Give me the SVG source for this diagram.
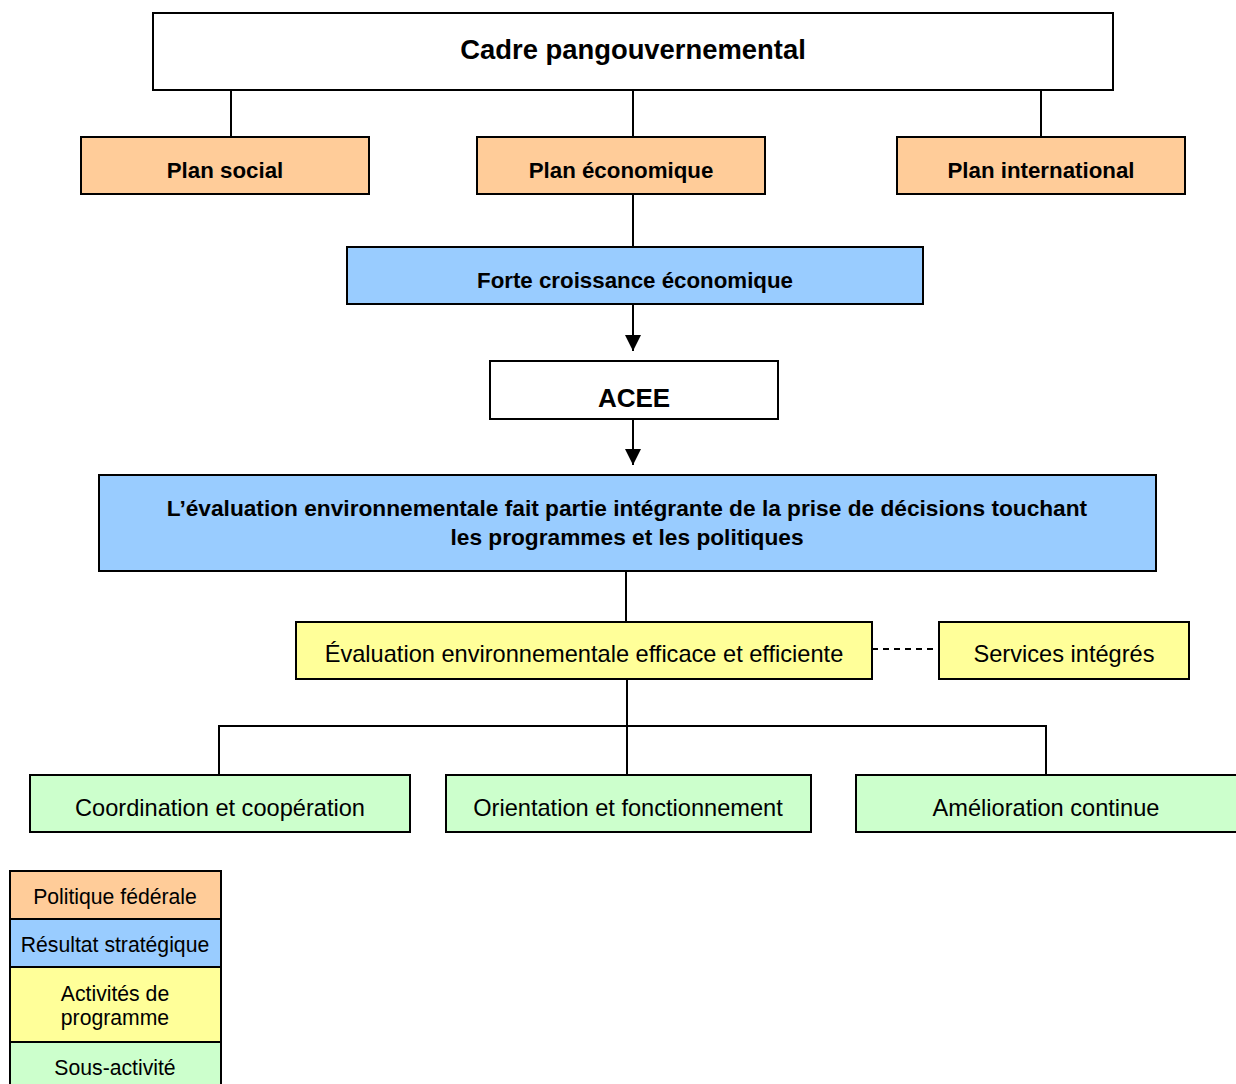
<svg xmlns="http://www.w3.org/2000/svg" width="1236" height="1084" viewBox="0 0 1236 1084">
<defs>
<style>
.box{stroke:#000;stroke-width:2}
.w{fill:#fff}.o{fill:#FFCC99}.b{fill:#99CCFF}.y{fill:#FFFF99}.g{fill:#CCFFCC}
text{font-family:"Liberation Sans",Arial,sans-serif;text-anchor:middle;fill:#000}
.bd{font-weight:bold;font-size:22.3px}
.rg{font-size:23.6px}
.lg{font-size:21.2px}
.ln{stroke:#000;stroke-width:2;fill:none}
</style>
<marker id="ah2" viewBox="0 0 16 16" refX="16" refY="8" markerWidth="16" markerHeight="16" markerUnits="userSpaceOnUse" orient="auto">
<path d="M0,0 L16,8 L0,16 Z" fill="#000"/>
</marker>
</defs>
<g id="connectors">
<line class="ln" x1="231" y1="90" x2="231" y2="137"/>
<line class="ln" x1="633" y1="90" x2="633" y2="137"/>
<line class="ln" x1="1041" y1="90" x2="1041" y2="137"/>
<line class="ln" x1="633" y1="194" x2="633" y2="247"/>
<line class="ln" x1="633" y1="304" x2="633" y2="351" marker-end="url(#ah2)"/>
<line class="ln" x1="633" y1="419" x2="633" y2="465" marker-end="url(#ah2)"/>
<line class="ln" x1="626" y1="571" x2="626" y2="622"/>
<line class="ln" x1="872" y1="649" x2="939" y2="649" stroke-dasharray="6,5"/>
<line class="ln" x1="627" y1="679" x2="627" y2="775"/>
<path class="ln" d="M219,775 V726 H1046 V775"/>
</g>
<g id="cadre"><rect class="box w" x="153" y="13" width="960" height="77"/><text class="bd" x="633" y="59" style="font-size:27.4px">Cadre pangouvernemental</text></g>
<g id="plan-social"><rect class="box o" x="81" y="137" width="288" height="57"/><text class="bd" x="225" y="178">Plan social</text></g>
<g id="plan-economique"><rect class="box o" x="477" y="137" width="288" height="57"/><text class="bd" x="621" y="178">Plan économique</text></g>
<g id="plan-international"><rect class="box o" x="897" y="137" width="288" height="57"/><text class="bd" x="1041" y="178">Plan international</text></g>
<g id="forte-croissance"><rect class="box b" x="347" y="247" width="576" height="57"/><text class="bd" x="635" y="288">Forte croissance économique</text></g>
<g id="acee"><rect class="box w" x="490" y="361" width="288" height="58"/><text class="bd" x="634" y="407" style="font-size:26px">ACEE</text></g>
<g id="evaluation-integrante"><rect class="box b" x="99" y="475" width="1057" height="96"/><text class="bd" x="627" y="516" style="font-size:22.7px">L’évaluation environnementale fait partie intégrante de la prise de décisions touchant</text><text class="bd" x="627" y="545" style="font-size:22.7px">les programmes et les politiques</text></g>
<g id="evaluation-efficace"><rect class="box y" x="296" y="622" width="576" height="57"/><text class="rg" x="584" y="662">Évaluation environnementale efficace et efficiente</text></g>
<g id="services"><rect class="box y" x="939" y="622" width="250" height="57"/><text class="rg" x="1064" y="662">Services intégrés</text></g>
<g id="coordination"><rect class="box g" x="30" y="775" width="380" height="57"/><text class="rg" x="220" y="816">Coordination et coopération</text></g>
<g id="orientation"><rect class="box g" x="446" y="775" width="365" height="57"/><text class="rg" x="628" y="816">Orientation et fonctionnement</text></g>
<g id="amelioration"><rect class="box g" x="856" y="775" width="382" height="57"/><text class="rg" x="1046" y="816">Amélioration continue</text></g>
<g id="legend">
<rect class="box o" x="10" y="871" width="211" height="48"/><text class="lg" x="115" y="904">Politique fédérale</text>
<rect class="box b" x="10" y="919" width="211" height="48"/><text class="lg" x="115" y="952">Résultat stratégique</text>
<rect class="box y" x="10" y="967" width="211" height="75"/><text class="lg" x="115" y="1001">Activités de</text><text class="lg" x="115" y="1025">programme</text>
<rect class="box g" x="10" y="1042" width="211" height="50"/><text class="lg" x="115" y="1075">Sous-activité</text>
</g>
</svg>
